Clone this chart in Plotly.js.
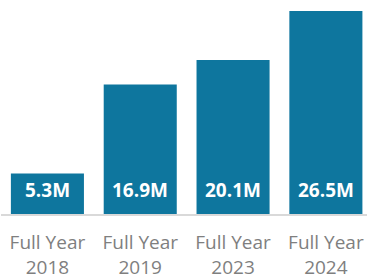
<!DOCTYPE html>
<html>
<head>
<meta charset="utf-8">
<script src="https://cdn.plot.ly/plotly-3.0.1.min.js"></script>
<style>html,body{margin:0;padding:0;background:#fff;}#chart{width:367px;height:278px;}</style>
</head>
<body>
<div id="chart"></div>
<script>
const categories = ["Full Year<br>2018", "Full Year<br>2019", "Full Year<br>2023", "Full Year<br>2024"];
const values = [5.3, 16.9, 20.1, 26.5];
const labels = ["5.3M", "16.9M", "20.1M", "26.5M"];

const barColor = "#0E769E";

const trace = {
  type: "bar",
  x: categories,
  y: values,
  marker: {color: barColor, line: {width: 0}},
  hoverinfo: "skip"
};

const annotations = categories.map((c, i) => ({
  x: c, y: 0, xref: "x", yref: "y",
  text: labels[i], showarrow: false,
  yanchor: "bottom", yshift: 9,
  font: {family: "'Open Sans', sans-serif", size: 19, color: "#ffffff", weight: 700}
}));

const layout = {
  width: 367, height: 278,
  margin: {l: 1, r: 0, t: 0, b: 64},
  paper_bgcolor: "#ffffff", plot_bgcolor: "#ffffff",
  bargap: 0.213,
  showlegend: false,
  xaxis: {
    type: "category",
    range: [-0.5, 3.443],
    showline: true, linecolor: "#d9d9d9", linewidth: 2,
    ticks: "", showgrid: false, zeroline: false,
    ticklabelstandoff: 10,
    tickfont: {family: "'Open Sans', sans-serif", size: 19, color: "#7f7f7f"}
  },
  yaxis: {
    range: [0, 27.94], visible: false, showgrid: false, zeroline: false, fixedrange: true
  },
  annotations: annotations
};

Plotly.newPlot("chart", [trace], layout, {displayModeBar: false, staticPlot: true});
</script>
</body>
</html>
